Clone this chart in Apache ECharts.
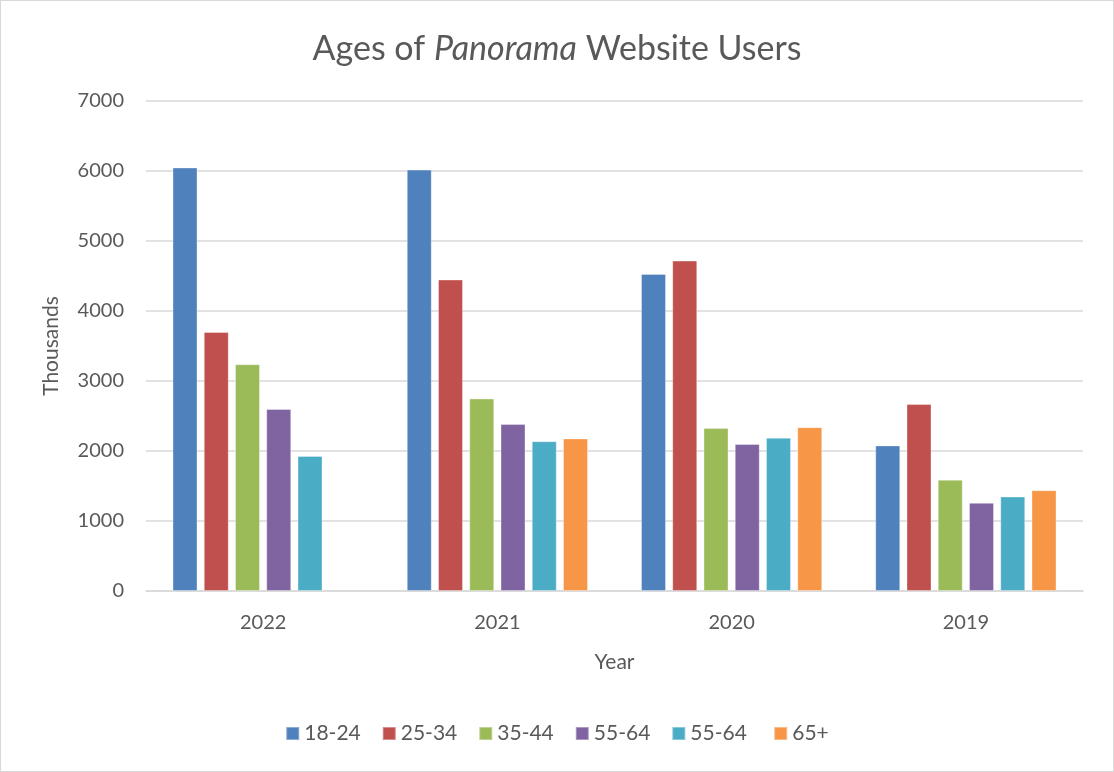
<!DOCTYPE html>
<html>
<head>
<meta charset="utf-8">
<title>Ages of Panorama Website Users</title>
<script src="https://cdn.jsdelivr.net/npm/echarts@6/dist/echarts.min.js"></script>
<style>
    html, body { margin: 0; padding: 0; background: #fff; }
    #chartArea { width: 1112px; height: 770px; border: 1px solid #d9d9d9; }
</style>
</head>
<body>
<div id="chartArea"></div>
<script>
// 数据
const years = ['2022', '2021', '2020', '2019'];
const ageGroups = ['18-24', '25-34', '35-44', '55-64', '55-64 ', '65+'];
const users18to24 = [6050, 6020, 4530, 2080];
const users25to34 = [3700, 4450, 4720, 2670];
const users35to44 = [3240, 2750, 2330, 1590];
const users55to64a = [2600, 2385, 2100, 1260];
const users55to64b = [1930, 2140, 2190, 1350];
const users65plus = [null, 2180, 2340, 1440];
const yTicks = [0, 1000, 2000, 3000, 4000, 5000, 6000, 7000];

const colors = ['#4F81BD', '#C0504D', '#9BBB59', '#8064A2', '#4BACC6', '#F79646'];
const textColor = '#595959';
const fontFamily = 'Lato, "Open Sans", sans-serif';

let chart = null;

document.addEventListener('DOMContentLoaded', function() {
    chart = echarts.init(document.getElementById('chartArea'));
    drawChart();
});

function makeSeries(name, values) {
    return {
        name: name,
        type: 'bar',
        data: values,
        barWidth: 25,
        barGap: '25%',
        itemStyle: { borderColor: 'rgba(255,255,255,0.35)', borderWidth: 1 }
    };
}

function drawChart() {
    const allValues = [users18to24, users25to34, users35to44, users55to64a, users55to64b, users65plus];
    const option = {
        color: colors,
        animation: false,
        textStyle: { fontFamily: fontFamily, color: textColor },
        title: {
            text: '{n|Ages of }{i|Panorama}{n| Website Users}',
            left: 'center',
            top: 26,
            textStyle: {
                fontWeight: 'normal',
                rich: {
                    n: { fontSize: 34, color: textColor, fontFamily: fontFamily, fontWeight: 'normal' },
                    i: { fontSize: 34, color: textColor, fontFamily: fontFamily, fontWeight: 'normal', fontStyle: 'italic' }
                }
            }
        },
        legend: {
            bottom: 22,
            left: 'center',
            itemWidth: 13,
            itemHeight: 13,
            itemGap: 21,
            icon: 'rect',
            data: ageGroups,
            textStyle: { fontSize: 21, color: textColor, fontFamily: fontFamily }
        },
        grid: { left: 145, right: 30, top: 100, bottom: 180 },
        xAxis: {
            type: 'category',
            data: years,
            name: 'Year',
            nameLocation: 'middle',
            nameGap: 61,
            nameTextStyle: { fontSize: 21, color: textColor },
            axisLine: { lineStyle: { color: '#d9d9d9', width: 1.5 } },
            axisTick: { show: false },
            axisLabel: { fontSize: 20, color: textColor, margin: 22 }
        },
        yAxis: {
            type: 'value',
            min: yTicks[0],
            max: yTicks[yTicks.length - 1],
            interval: 1000,
            name: 'Thousands',
            nameLocation: 'middle',
            nameGap: 84,
            nameTextStyle: { fontSize: 21, color: textColor },
            axisLine: { show: false },
            axisTick: { show: false },
            axisLabel: { fontSize: 20, color: textColor, margin: 22, formatter: v => String(v) },
            splitLine: { lineStyle: { color: '#d9d9d9', width: 1.5 } }
        },
        series: ageGroups.map((g, i) => makeSeries(g, allValues[i]))
    };
    chart.setOption(option);
}
</script>
</body>
</html>
